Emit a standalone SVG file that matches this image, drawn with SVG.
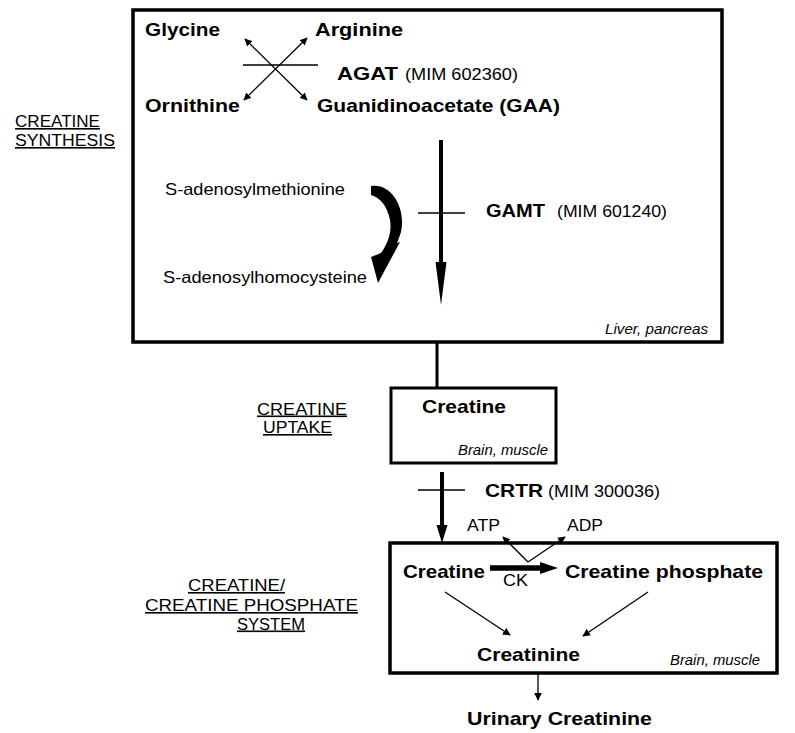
<svg xmlns="http://www.w3.org/2000/svg" width="795" height="733" viewBox="0 0 795 733">
<style>
text{font-family:"Liberation Sans",Arial,sans-serif;fill:#000}
.b{font-weight:bold;font-size:19px}
.n{font-size:16.5px}
.m{font-size:16.5px}
.i{font-style:italic;font-size:15px}
.lab{font-size:16px;text-decoration:underline}
.box{fill:#fff;stroke:#000;stroke-width:3.5}
.thin{stroke:#000;stroke-width:1.3;fill:none}
.thick{stroke:#000;stroke-width:4;fill:none}
</style>
<defs>
<marker id="ah" viewBox="0 0 10 10" refX="9" refY="5" markerWidth="6" markerHeight="6" orient="auto-start-reverse" markerUnits="strokeWidth">
<path d="M0,0 L10,5 L0,10 z" fill="#000"/>
</marker>
</defs>
<rect width="795" height="733" fill="#fff"/>

<g id="labels">
<text class="lab" x="15" y="127" textLength="85" lengthAdjust="spacingAndGlyphs">CREATINE</text>
<text class="lab" x="15" y="146" textLength="100" lengthAdjust="spacingAndGlyphs">SYNTHESIS</text>
<text class="lab" x="257" y="414.5" textLength="90" lengthAdjust="spacingAndGlyphs">CREATINE</text>
<text class="lab" x="263" y="433" textLength="69" lengthAdjust="spacingAndGlyphs">UPTAKE</text>
<text class="lab" x="188" y="591" textLength="97" lengthAdjust="spacingAndGlyphs">CREATINE/</text>
<text class="lab" x="145" y="611" textLength="213" lengthAdjust="spacingAndGlyphs">CREATINE PHOSPHATE</text>
<text class="lab" x="237" y="629.5" textLength="68" lengthAdjust="spacingAndGlyphs">SYSTEM</text>
</g>

<g id="synthesis">
<rect class="box" x="133" y="10" width="589" height="332"/>
<text class="b" x="145" y="36" textLength="75" lengthAdjust="spacingAndGlyphs">Glycine</text>
<text class="b" x="315" y="36" textLength="88" lengthAdjust="spacingAndGlyphs">Arginine</text>
<text class="b" x="337" y="80" textLength="61" lengthAdjust="spacingAndGlyphs">AGAT</text>
<text class="m" x="405" y="80" textLength="113" lengthAdjust="spacingAndGlyphs">(MIM 602360)</text>
<text class="b" x="145" y="112" textLength="95" lengthAdjust="spacingAndGlyphs">Ornithine</text>
<text class="b" x="317" y="112" textLength="243" lengthAdjust="spacingAndGlyphs">Guanidinoacetate (GAA)</text>
<text class="n" x="165" y="195" textLength="180" lengthAdjust="spacingAndGlyphs">S-adenosylmethionine</text>
<text class="n" x="163" y="283" textLength="204" lengthAdjust="spacingAndGlyphs">S-adenosylhomocysteine</text>
<text class="b" x="486" y="217" textLength="59" lengthAdjust="spacingAndGlyphs">GAMT</text>
<text class="m" x="557" y="217" textLength="110" lengthAdjust="spacingAndGlyphs">(MIM 601240)</text>
<text class="i" x="605" y="334" textLength="103" lengthAdjust="spacingAndGlyphs">Liver, pancreas</text>
</g>

<g id="creatine-uptake">
<rect class="box" x="391" y="388" width="165" height="75" style="stroke-width:3"/>
<text class="b" x="422" y="413" textLength="84" lengthAdjust="spacingAndGlyphs">Creatine</text>
<text class="i" x="458" y="455" textLength="90" lengthAdjust="spacingAndGlyphs">Brain, muscle</text>
</g>

<g id="cr-system">
<rect class="box" x="390" y="543" width="387" height="130"/>
<text class="b" x="403" y="578" textLength="82" lengthAdjust="spacingAndGlyphs">Creatine</text>
<text class="b" x="565" y="578" textLength="198" lengthAdjust="spacingAndGlyphs">Creatine phosphate</text>
<text class="m" x="503" y="586" textLength="25" lengthAdjust="spacingAndGlyphs">CK</text>
<text class="b" x="477" y="661" textLength="103" lengthAdjust="spacingAndGlyphs">Creatinine</text>
<text class="i" x="670" y="665" textLength="90" lengthAdjust="spacingAndGlyphs">Brain, muscle</text>
</g>

<g id="crtr-label">
<text class="b" x="485" y="497" textLength="58" lengthAdjust="spacingAndGlyphs">CRTR</text>
<text class="m" x="548" y="497" textLength="112" lengthAdjust="spacingAndGlyphs">(MIM 300036)</text>
<text class="m" x="467" y="531" textLength="33" lengthAdjust="spacingAndGlyphs">ATP</text>
<text class="m" x="567" y="531" textLength="36" lengthAdjust="spacingAndGlyphs">ADP</text>
</g>

<g id="urinary">
<text class="b" x="467" y="725" textLength="185" lengthAdjust="spacingAndGlyphs">Urinary Creatinine</text>
</g>

<g id="connectors">
<line class="thin" x1="243" y1="65" x2="318" y2="65"/>
<line class="thin" x1="245" y1="39" x2="307" y2="100" marker-start="url(#ah)" marker-end="url(#ah)"/>
<line class="thin" x1="307" y1="38" x2="244" y2="100" marker-start="url(#ah)" marker-end="url(#ah)"/>
<line class="thick" x1="441" y1="140" x2="441" y2="266"/>
<polygon points="435.5,262 446.5,262 441,305" fill="#000"/>
<line class="thin" x1="418" y1="213" x2="465" y2="213"/>
<path d="M371,186 C393,183 406,210 401,232 C399,238 398,241 397,243 L400,242 L378,283 L371,257 L381,253 C388,243 392,232 390,220 C387,205 380,198 371,195 Z" fill="#000"/>
<line x1="437" y1="342" x2="437" y2="388" stroke="#000" stroke-width="3"/>
<line class="thick" x1="442" y1="472" x2="442" y2="528"/>
<polygon points="436.5,525 447.5,525 442,543" fill="#000"/>
<line class="thin" x1="418" y1="490" x2="465" y2="490"/>
<line class="thin" x1="528" y1="562" x2="503" y2="537" marker-end="url(#ah)"/>
<line class="thin" x1="528" y1="562" x2="565" y2="537" marker-end="url(#ah)"/>
<line x1="490" y1="568" x2="543" y2="568" stroke="#000" stroke-width="5.5"/>
<polygon points="540,562 540,574 558,568" fill="#000"/>
<line class="thin" x1="445" y1="592" x2="510" y2="635" marker-end="url(#ah)"/>
<line class="thin" x1="648" y1="592" x2="583" y2="636" marker-end="url(#ah)"/>
<line class="thin" x1="538" y1="673" x2="538" y2="700" marker-end="url(#ah)"/>
</g>
</svg>
